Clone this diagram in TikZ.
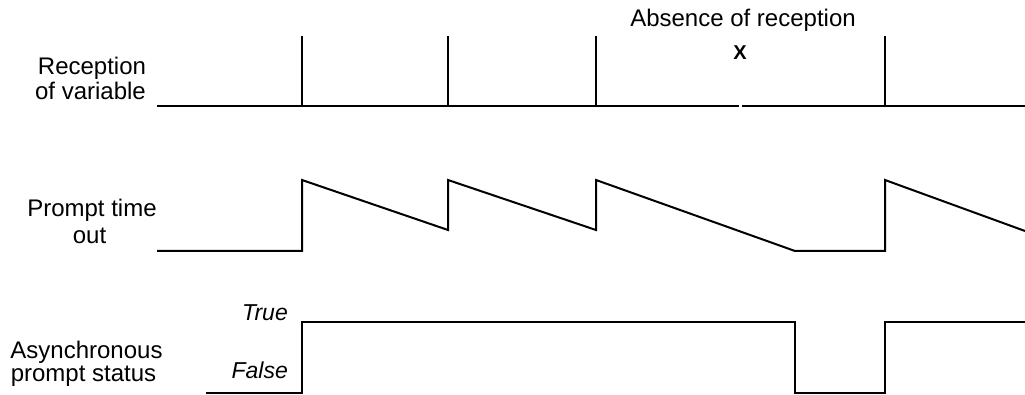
\documentclass[tikz,border=0pt]{standalone}
\usepackage{fontspec}
\setmainfont{Liberation Sans}
\begin{document}
\begin{tikzpicture}[x=1pt,y=-1pt,
  wave/.style={line width=2pt, line join=miter, line cap=butt},
  lbl/.style={inner sep=0pt, anchor=base, font=\fontsize{24}{26}\selectfont},
  lvl/.style={inner sep=0pt, anchor=base east, font=\fontsize{23}{25}\selectfont\itshape}]
\useasboundingbox (0,0) rectangle (1025,395);

% left labels
\node[lbl] (rec1) at (92,75) {Reception};
\node[lbl] (rec2) at (90.5,100) {of variable};
\node[lbl] (pto1) at (92,217) {Prompt time};
\node[lbl] (pto2) at (89.5,244) {out};
\node[lbl] (aps1) at (86.5,358) {Asynchronous};
\node[lbl] (aps2) at (83.5,381) {prompt status};
\node[lvl] (true) at (288,320) {True};
\node[lvl] (false) at (288,378) {False};

% top annotation
\node[lbl] (absence) at (743,27) {Absence of reception};
\node[lbl, font=\fontsize{20}{22}\selectfont\bfseries] (xmark) at (740,60) {X};

% reception of variable
\draw[wave] (157,106) -- (739,106);
\draw[wave] (742,106) -- (1025,106);
\foreach \px in {302,448,596,885}
  \draw[wave] (\px,36) -- (\px,106);

% prompt time out
\draw[wave] (157,251) -- (302,251) -- (302,180) -- (448,230) -- (448,180)
  -- (596,230) -- (596,180) -- (795,251) -- (885,251) -- (885,180) -- (1025,231);

% asynchronous prompt status
\draw[wave] (206,393) -- (302,393) -- (302,322) -- (795,322) -- (795,393)
  -- (885,393) -- (885,322) -- (1025,322);
\end{tikzpicture}
\end{document}
